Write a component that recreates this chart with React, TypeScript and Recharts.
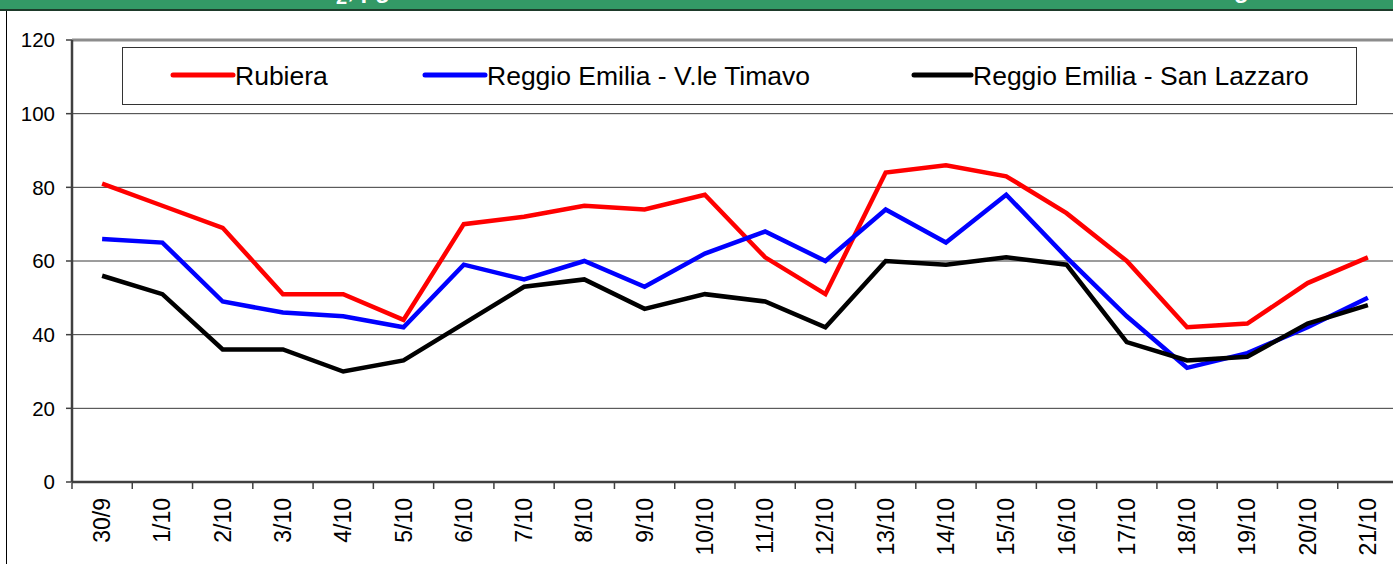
import React from "react";
import {
  LineChart,
  Line,
  XAxis,
  YAxis,
  CartesianGrid,
  Legend,
  ReferenceLine
} from "recharts";

const days = [
  "30/9", "1/10", "2/10", "3/10", "4/10", "5/10", "6/10", "7/10", "8/10", "9/10", "10/10",
  "11/10", "12/10", "13/10", "14/10", "15/10", "16/10", "17/10", "18/10", "19/10", "20/10", "21/10"
];

const rubiera = [81, 75, 69, 51, 51, 44, 70, 72, 75, 74, 78, 61, 51, 84, 86, 83, 73, 60, 42, 43, 54, 61];
const timavo = [66, 65, 49, 46, 45, 42, 59, 55, 60, 53, 62, 68, 60, 74, 65, 78, 61, 45, 31, 35, 42, 50];
const sanLazzaro = [56, 51, 36, 36, 30, 33, 43, 53, 55, 47, 51, 49, 42, 60, 59, 61, 59, 38, 33, 34, 43, 48];

const yTicks = [0, 20, 40, 60, 80, 100, 120];

const series = [
  { key: "rubiera", name: "Rubiera", color: "#ff0000" },
  { key: "timavo", name: "Reggio Emilia - V.le Timavo", color: "#0000ff" },
  { key: "sanLazzaro", name: "Reggio Emilia - San Lazzaro", color: "#000000" }
];

const data = days.map((d, i) => ({
  day: d,
  rubiera: rubiera[i],
  timavo: timavo[i],
  sanLazzaro: sanLazzaro[i]
}));

const FONT = "'Liberation Sans', Arial, sans-serif";
const CHART_W = 1398;
const CHART_H = 564;
const PLOT_LEFT = 72;
const AXIS_Y = 482;
const HALF_BAND = (CHART_W - PLOT_LEFT) / days.length / 2;

// Excel-style category axis: ticks between categories, labels rotated
const XTick = (props: any) => {
  const { x, payload } = props;
  return (
    <g transform={`translate(${x},${AXIS_Y})`}>
      <line x1={-HALF_BAND} y1={1} x2={-HALF_BAND} y2={7} stroke="#404040" strokeWidth={1.5} />
      <text
        transform="rotate(-90)"
        x={-16}
        y={0}
        dy="0.35em"
        textAnchor="end"
        fontSize={23}
        fontFamily={FONT}
        fill="#000"
      >
        {payload.value}
      </text>
    </g>
  );
};

const legendPos = [
  { line: 50, w: 60, text: 112 },
  { line: 302, w: 60, text: 364 },
  { line: 791, w: 57, text: 850 }
];

const renderLegend = () => (
  <div
    style={{
      position: "relative",
      width: 1235,
      height: 58,
      border: "1px solid #333",
      boxSizing: "border-box",
      background: "#fff"
    }}
  >
    {series.map((s, i) => (
      <React.Fragment key={s.key}>
        <svg
          width={legendPos[i].w + 6}
          height={10}
          style={{ position: "absolute", left: legendPos[i].line - 3, top: 22 }}
        >
          <line x1={3} y1={5} x2={legendPos[i].w + 3} y2={5} stroke={s.color} strokeWidth={5} strokeLinecap="round" />
        </svg>
        <span
          style={{
            position: "absolute",
            left: legendPos[i].text,
            top: 13,
            fontSize: 26.5,
            lineHeight: "30px",
            fontFamily: FONT,
            color: "#000",
            whiteSpace: "nowrap"
          }}
        >
          {s.name}
        </span>
      </React.Fragment>
    ))}
  </div>
);

const titleStyle: React.CSSProperties = {
  position: "absolute",
  top: -22,
  fontSize: 24,
  lineHeight: "24px",
  fontWeight: "bold",
  fontFamily: FONT,
  color: "#fff",
  whiteSpace: "nowrap"
};

export default function App() {
  return (
    <div
      style={{
        position: "absolute",
        left: 0,
        top: 0,
        width: 1393,
        height: 564,
        overflow: "hidden",
        background: "#fff"
      }}
    >
      {/* header band, title clipped off the top */}
      <div
        style={{
          position: "absolute",
          left: 0,
          top: 0,
          width: 1393,
          height: 9,
          background: "#339966",
          overflow: "hidden"
        }}
      >
        <span style={{ ...titleStyle, left: 300 }}>
          NO<sub>2</sub>, μg/m³
        </span>
        <span style={{ ...titleStyle, left: 1234 }}>giornaliere</span>
      </div>
      <div style={{ position: "absolute", left: 0, top: 9, width: 1393, height: 2, background: "#1d3a2a" }} />
      <div style={{ position: "absolute", left: 6, top: 11, width: 1, height: 553, background: "#000" }} />

      <div style={{ position: "absolute", left: 0, top: 0 }}>
        <LineChart
          width={CHART_W}
          height={CHART_H}
          data={data}
          margin={{ top: 40, right: 0, bottom: 0, left: 12 }}
        >
          <CartesianGrid vertical={false} stroke="#3a3a3a" strokeWidth={1} />
          <ReferenceLine y={120} stroke="#8c8c8c" strokeWidth={3} />
          <XAxis
            dataKey="day"
            interval={0}
            height={CHART_H - AXIS_Y}
            padding={{ left: HALF_BAND, right: HALF_BAND }}
            tickSize={0}
            tickMargin={0}
            tickLine={false}
            axisLine={{ stroke: "#404040", strokeWidth: 2.5 }}
            tick={<XTick />}
          />
          <YAxis
            domain={[0, 120]}
            ticks={yTicks}
            width={60}
            tickSize={6}
            tickMargin={11}
            axisLine={{ stroke: "#404040", strokeWidth: 2.5 }}
            tickLine={{ stroke: "#404040", strokeWidth: 1.5 }}
            tick={{ fontSize: 20.5, fill: "#000", fontFamily: FONT }}
          />
          <Legend
            layout="vertical"
            align="center"
            verticalAlign="middle"
            content={renderLegend}
            wrapperStyle={{ position: "absolute", left: 122, top: 47, width: 1235, height: 58 }}
          />
          {series.map((s) => (
            <Line
              key={s.key}
              type="linear"
              dataKey={s.key}
              name={s.name}
              stroke={s.color}
              strokeWidth={4.5}
              dot={false}
              activeDot={false}
              isAnimationActive={false}
            />
          ))}
        </LineChart>
      </div>
    </div>
  );
}
